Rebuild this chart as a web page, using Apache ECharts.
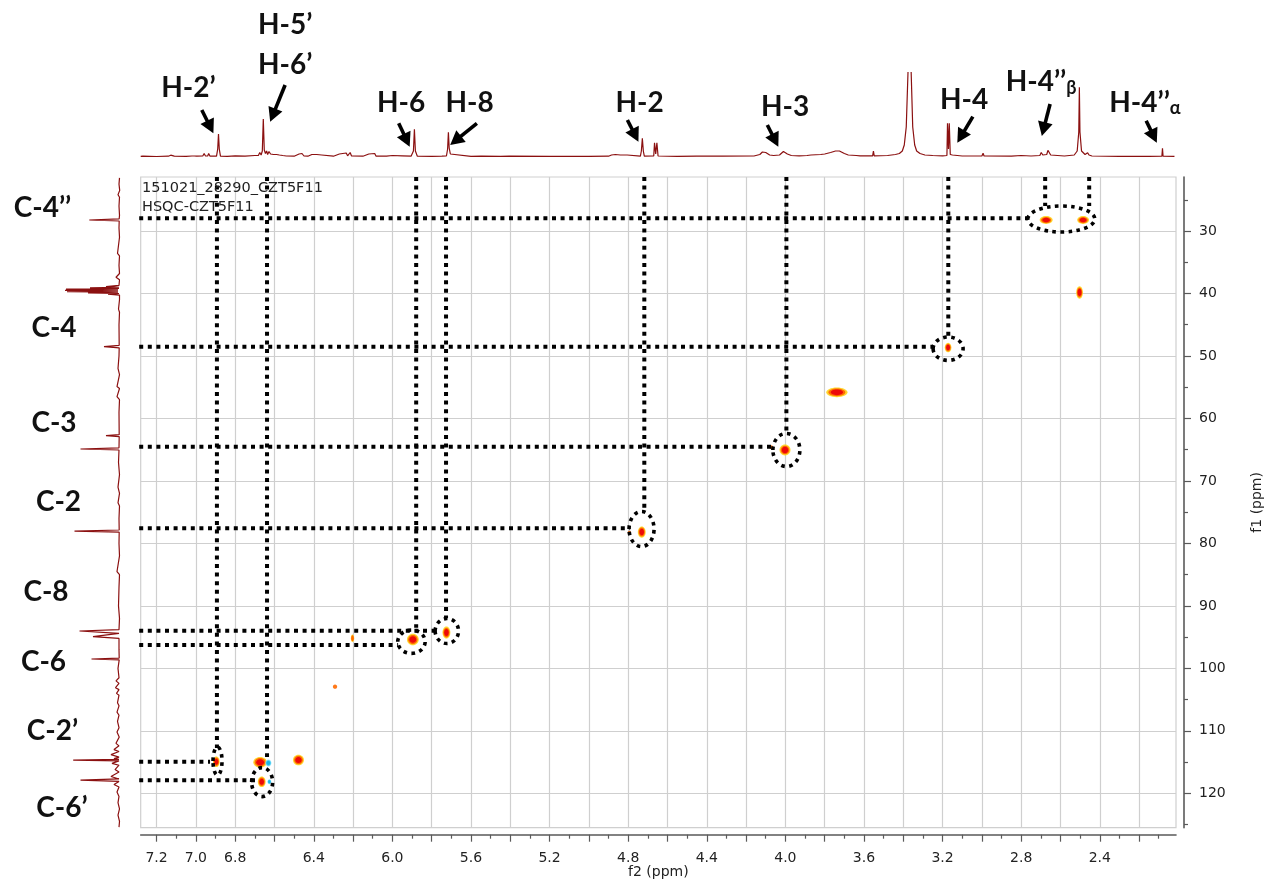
<!DOCTYPE html>
<html>
<head>
<meta charset="utf-8">
<title>HSQC CZT5F11</title>
<script src="https://cdn.jsdelivr.net/npm/echarts@6/dist/echarts.min.js"></script>
<style>
  html, body { margin: 0; padding: 0; background: #ffffff; }
  #chart { width: 1265px; height: 883px; }
</style>
</head>
<body>
<div id="chart"></div>
<script>
// ---------- axes (ppm) ----------
const f2Window = [2.0122, 7.2809];
const f1Window = [21.357, 125.50];
const f2MajorTicks = [7.2, 7.0, 6.8, 6.6, 6.4, 6.2, 6.0, 5.8, 5.6, 5.4, 5.2, 5.0, 4.8, 4.6, 4.4, 4.2, 4.0, 3.8, 3.6, 3.4, 3.2, 3.0, 2.8, 2.6, 2.4, 2.2];
const f2MinorTicks = [7.1, 6.9, 6.7, 6.5, 6.3, 6.1, 5.9, 5.7, 5.5, 5.3, 5.1, 4.9, 4.7, 4.5, 4.3, 4.1, 3.9, 3.7, 3.5, 3.3, 3.1, 2.9, 2.7, 2.5, 2.3, 2.1];
const f2TickLabels = [7.2, 7.0, 6.8, 6.4, 6.0, 5.6, 5.2, 4.8, 4.4, 4.0, 3.6, 3.2, 2.8, 2.4];
const f1MajorTicks = [30, 40, 50, 60, 70, 80, 90, 100, 110, 120];
const f1MinorTicks = [25, 35, 45, 55, 65, 75, 85, 95, 105, 115, 125];

// ---------- 1H trace along the top: [ppm, intensity] ----------
const protonTrace = [
  [7.281, 0.6], [7.27, 0.8], [7.266, 2], [7.262, 0.6], [7.20, 0.5], [7.14, 0.8], [7.128, 1.8], [7.12, 2.2], [7.11, 0.8],
  [7.05, 0.6], [7.02, 1], [7.015, 3], [7.008, 1], [7.003, 3], [6.996, 0.8],
  [6.965, 1], [6.958, 3.5], [6.952, 1.2], [6.946, 3], [6.94, 1], [6.935, 3.5], [6.928, 0.8],
  [6.895, 0.8], [6.889, 8], [6.885, 23], [6.881, 8], [6.875, 0.8],
  [6.84, 0.6], [6.80, 1.2], [6.79, 0.6], [6.75, 0.8],
  [6.70, 1.5], [6.69, 3], [6.682, 1.5], [6.675, 4.5], [6.668, 2],
  [6.662, 6], [6.657, 38], [6.652, 7], [6.646, 3.5], [6.64, 6], [6.635, 2.5], [6.628, 5.5], [6.62, 3], [6.612, 5],
  [6.605, 2.5], [6.597, 4.5], [6.59, 2.5], [6.583, 4], [6.575, 2], [6.567, 3.5], [6.558, 1.5], [6.55, 2.5], [6.54, 1],
  [6.50, 0.8], [6.475, 3], [6.468, 1.5], [6.46, 3.5], [6.45, 1],
  [6.43, 0.8], [6.41, 2.5], [6.40, 1], [6.385, 2.5], [6.375, 1], [6.36, 2], [6.35, 0.8],
  [6.30, 0.8], [6.27, 3], [6.262, 1], [6.235, 4], [6.228, 1.2], [6.215, 4.5], [6.208, 1],
  [6.15, 0.8], [6.12, 3], [6.113, 1], [6.09, 3.5], [6.083, 0.8],
  [6.03, 0.8], [6.00, 1.5], [5.99, 0.6], [5.95, 1.2], [5.94, 0.6],
  [5.905, 0.8], [5.893, 6], [5.888, 27.7], [5.883, 6], [5.873, 0.8],
  [5.80, 0.6], [5.748, 0.8], [5.744, 2.5], [5.74, 0.8],
  [5.725, 1], [5.719, 8], [5.715, 24.7], [5.711, 9], [5.705, 3], [5.695, 1],
  [5.60, 0.6], [5.548, 0.8], [5.545, 2], [5.54, 0.8],
  [5.45, 0.6], [5.405, 0.8], [5.40, 2], [5.395, 0.8],
  [5.20, 0.6], [5.00, 0.6],
  [4.90, 0.8], [4.885, 2], [4.878, 1], [4.865, 2.5], [4.858, 1], [4.84, 2], [4.83, 0.8], [4.805, 2], [4.798, 0.8],
  [4.738, 0.8], [4.733, 6], [4.728, 18.7], [4.723, 6], [4.718, 0.8],
  [4.67, 1], [4.666, 14.3], [4.66, 3], [4.654, 14.3], [4.648, 1],
  [4.55, 0.6], [4.452, 0.8], [4.448, 1.8], [4.444, 0.8], [4.32, 0.8], [4.316, 1.8], [4.312, 0.8],
  [4.16, 1], [4.13, 2.5], [4.117, 5], [4.11, 6.3], [4.10, 4.5], [4.08, 2], [4.06, 1.5], [4.03, 2], [4.01, 5.5],
  [4.002, 6.3], [3.99, 3], [3.97, 1.5],
  [3.93, 1.2], [3.89, 1.5], [3.87, 2], [3.86, 1.5], [3.82, 2.5], [3.80, 3], [3.77, 4.5], [3.745, 6], [3.725, 6],
  [3.70, 3.5], [3.68, 2], [3.64, 1.5], [3.63, 2.5], [3.62, 1.2], [3.58, 1.2],
  [3.556, 1.2], [3.552, 6], [3.548, 1.2],
  [3.48, 1.5], [3.44, 2.5], [3.42, 3.5], [3.405, 6], [3.395, 12], [3.385, 30], [3.376, 85],
  [3.368, null],
  [3.360, 85], [3.352, 30], [3.342, 12], [3.332, 6], [3.315, 3.5], [3.29, 2],
  [3.25, 1.5], [3.20, 1.2], [3.178, 1.5], [3.175, 33.7], [3.17, 8], [3.166, 33.7], [3.161, 2.5], [3.15, 2], [3.10, 1],
  [3.00, 1], [2.994, 3.7], [2.989, 1],
  [2.85, 0.8], [2.80, 1.5], [2.79, 0.8], [2.75, 1],
  [2.705, 1.5], [2.698, 4.5], [2.694, 5.3], [2.69, 2], [2.67, 2.5], [2.664, 6.7], [2.659, 5], [2.65, 2],
  [2.58, 1], [2.53, 2], [2.515, 6], [2.507, 25], [2.504, 69.7], [2.501, 25], [2.493, 6], [2.475, 2.5],
  [2.462, 4.3], [2.455, 2], [2.44, 1],
  [2.30, 0.6], [2.15, 0.6], [2.084, 0.8], [2.081, 8.7], [2.078, 0.8], [2.02, 0.6]
];

// ---------- 13C trace on the left: [intensity, ppm] ----------
const carbonTrace = [
  [0.5, 21.5], [1, 22.5], [0.3, 23.5], [2, 24.2], [0.5, 24.6], [1, 26], [0.5, 27.5],
  [0.8, 28.05], [30.7, 28.24], [0.8, 28.4],
  [1, 29.5], [0.5, 31], [2.5, 33.6], [0.5, 34], [1, 35.5], [0.5, 36.8], [4, 37.4], [0.5, 37.8],
  [1, 38.7], [14, 38.9], [1, 39.0], [30, 39.1], [1, 39.2], [54, 39.3], [2, 39.4], [55, 39.5], [2, 39.6],
  [53, 39.7], [2, 39.8], [32, 39.9], [1, 40.0], [12, 40.1], [0.5, 40.25],
  [0.5, 41], [1.5, 42.5], [0.5, 43], [1, 45], [0.8, 48.3], [16, 48.52], [0.8, 48.7],
  [1, 50], [2, 52], [0.5, 53], [3, 54.9], [0.5, 55.2], [3, 56.5], [0.5, 57], [1, 59],
  [0.8, 62.6], [14, 62.76], [0.8, 62.9], [1, 64.7], [39.5, 64.89], [1, 65.05],
  [1.5, 67], [0.5, 69], [2, 71], [0.5, 72], [2, 73.5], [0.5, 74], [1, 76],
  [0.8, 77.85], [45.5, 78.02], [0.8, 78.2], [1, 80], [0.5, 82], [3, 84.5], [0.5, 85], [1, 87], [1.5, 90], [0.5, 92],
  [1, 93.8], [40.5, 94.02], [1, 94.4], [27, 94.93], [1, 95.2], [1, 97], [0.8, 98.35], [28.5, 98.5], [0.8, 98.65],
  [2, 100], [1, 101.5], [4, 102], [1, 102.4], [4.5, 103.1], [1, 103.4], [3.5, 104], [1, 104.3],
  [2.5, 105.5], [1, 106], [3, 107], [1, 107.5], [2.5, 108.5], [1, 109.5], [3, 110.2], [0.8, 111],
  [4, 112], [1, 112.4], [6, 113], [1, 113.3], [9, 113.8], [1, 114.2], [6, 114.45], [1, 114.55],
  [46.8, 114.67], [1, 114.8], [8, 115.2], [1, 115.5], [5, 116.2], [1, 116.6], [9, 117.3], [1, 117.7],
  [39.5, 117.87], [1, 118.1], [6, 118.6], [1, 119], [3, 119.8], [1, 120.5], [2, 121.5], [0.5, 122.5],
  [2, 123.5], [0.5, 124.5], [1, 125.4]
];

// ---------- HSQC cross peaks (ppm) ----------
const crossF2 = [2.673, 2.485, 2.503, 3.172, 3.738, 4.002, 4.073, 4.731, 4.794, 5.896, 5.725, 6.203, 6.292, 6.896, 6.673, 6.478, 6.665];
const crossF1 = [28.24, 28.24, 39.84, 48.65, 55.82, 65.05, 64.57, 78.18, 78.29, 95.38, 94.26, 95.19, 102.93, 114.94, 115.04, 114.67, 118.14];
const crossWidthF2 = [0.066, 0.06, 0.034, 0.034, 0.108, 0.056, 0.022, 0.04, 0.017, 0.06, 0.04, 0.017, 0.022, 0.034, 0.07, 0.056, 0.04];
const crossWidthF1 = [1.25, 1.25, 2.0, 1.55, 1.55, 1.75, 0.6, 1.8, 0.6, 1.85, 1.95, 1.2, 0.7, 1.7, 1.7, 1.7, 1.7];
const crossLevel = [3, 3, 3, 3, 3, 3, 1, 3, 1, 3, 3, 2, 1, 3, 3, 3, 3];
// opposite-phase contours
const negF2 = [6.631, 6.626];
const negF1 = [115.15, 118.14];
const negWidthF2 = [0.031, 0.02];
const negWidthF1 = [1.12, 0.8];

// ---------- assignment guides ----------
// 1H columns: from the top of the map down to the correlation
const hGuideF2 = [6.893, 6.638, 5.879, 5.727, 4.718, 3.995, 3.171, 2.678, 2.454];
const hGuideEndF1 = [112.75, 114.2, 93.5, 91.94, 74.8, 62.3, 46.8, 26.0, 26.0];
// 13C rows: from the left edge across to the correlation
const cGuideF1 = [27.97, 48.52, 64.52, 77.58, 93.97, 96.26, 114.94, 117.92];
const cGuideEndF2 = [2.765, 3.249, 4.063, 4.79, 5.774, 5.971, 6.928, 6.699];
// circled correlations
const circleF2 = [2.596, 3.172, 3.995, 4.732, 5.723, 5.903, 6.89, 6.663];
const circleF1 = [28.08, 48.84, 65.05, 77.7, 94.02, 95.73, 114.83, 118.2];

// ---------- 1H labels and arrows (ppm, trace intensity) ----------
const hLabelText = ['H-2’', 'H-5’\nH-6’', 'H-6', 'H-8', 'H-2', 'H-3', 'H-4', '{m|H-4’’}{s|β}', '{m|H-4’’}{s|α}'];
const hLabelF2 = [7.038, 6.546, 5.956, 5.607, 4.742, 4.002, 3.091, 2.699, 2.170];
const hLabelI = [69, 112, 54.5, 54.5, 54.5, 50, 57, 75, 54.5];
const arrowTipF2 = [6.911, 6.622, 5.912, 5.706, 4.748, 4.036, 3.125, 2.695, 2.110];
const arrowTipI = [23.7, 35.3, 10.3, 12, 15.3, 10.3, 14.3, 21, 14.3];
const arrowTailF2 = [6.970, 6.546, 5.968, 5.570, 4.804, 4.092, 3.046, 2.653, 2.164];
const arrowTailI = [47, 72, 33.7, 33.7, 37, 32, 40.3, 53, 36.3];

// ---------- 13C labels (trace intensity, ppm) ----------
const cLabelText = ['C-4’’', 'C-4', 'C-3', 'C-2', 'C-8', 'C-6', 'C-2’', 'C-6’'];
const cLabelI = [77.5, 66, 66, 61.5, 74, 76.5, 67.5, 58];
const cLabelF1 = [26.32, 45.52, 60.73, 73.37, 87.77, 98.97, 110.02, 122.3];

// ---------- styling ----------
const traceColor = '#8b1010';
const gridColor = '#cfcfcf';
const axisColor = '#5a5a5a';
const tickFont = 'DejaVu Sans';
const labelFont = 'Lato';
const circleRadius = [[33.5, 13], [15, 11.7], [13.5, 16.5], [12.5, 17.5], [11.7, 12.5], [13.7, 11.7], [4.5, 14], [10.5, 14.5]];
const dotted = { stroke: '#000', lineWidth: 4, lineDash: [4, 4.6], lineCap: 'butt', fill: null };
const dottedRing = { stroke: '#000', lineWidth: 3.6, lineDash: [3.6, 4.4], lineCap: 'butt', fill: null };

const mapGrid = { left: 140.7, top: 177, width: 1035.3, height: 650.7 };

const chart = echarts.init(document.getElementById('chart'));

function hiddenAxis(extra) {
  return Object.assign({
    type: 'value', show: false, axisLine: { show: false }, axisTick: { show: false },
    axisLabel: { show: false }, splitLine: { show: false }
  }, extra);
}

// each contour is drawn as nested ellipses, weakest level outermost
function contourItem(colors) {
  return function (params, api) {
    const x = api.value(0), y = api.value(1);
    const c = api.coord([x, y]);
    const s = api.size([api.value(2), api.value(3)], [x, y]);
    const level = api.value(4);
    const rx = s[0] / 2, ry = s[1] / 2;
    const kids = [];
    const scales = [1, 0.8, 0.58];
    for (let k = 0; k < Math.min(level, 3); k++) {
      const col = level === 1 ? colors[1] : colors[k];
      kids.push({
        type: 'ellipse',
        shape: { cx: c[0], cy: c[1], rx: rx * scales[k], ry: ry * scales[k] },
        style: { fill: col, opacity: k === 0 ? 0.9 : 1 }
      });
    }
    return { type: 'group', children: kids };
  };
}

const crossData = crossF2.map((v, i) => [v, crossF1[i], crossWidthF2[i], crossWidthF1[i], crossLevel[i]]);
const negData = negF2.map((v, i) => [v, negF1[i], negWidthF2[i], negWidthF1[i], 3]);

const option = {
  animation: false,
  backgroundColor: '#ffffff',
  title: {
    text: '151021_28290_CZT5F11',
    subtext: 'HSQC-CZT5F11',
    left: 142, top: 181, itemGap: 4, padding: 0,
    textStyle: { fontFamily: tickFont, fontSize: 14.5, fontWeight: 'normal', color: '#222' },
    subtextStyle: { fontFamily: tickFont, fontSize: 14.5, color: '#222' }
  },
  grid: [
    Object.assign({ show: true, borderColor: gridColor, borderWidth: 1.2, backgroundColor: '#fff', outerBoundsMode: 'none', containLabel: false }, mapGrid),
    { left: mapGrid.left, width: mapGrid.width, top: 0, height: 159, outerBoundsMode: 'none', containLabel: false },
    { left: 0, width: 120, top: mapGrid.top, height: mapGrid.height, outerBoundsMode: 'none', containLabel: false }
  ],
  xAxis: [
    {
      type: 'value', gridIndex: 0, inverse: true, min: f2Window[0], max: f2Window[1],
      position: 'bottom', offset: 7,
      name: 'f2 (ppm)', nameLocation: 'middle', nameGap: 31, nameMoveOverlap: false,
      nameTextStyle: { fontFamily: tickFont, fontSize: 14, color: '#222' },
      axisLine: { show: true, lineStyle: { color: axisColor, width: 1.6 } },
      axisTick: { show: true, customValues: f2MajorTicks, length: 7, lineStyle: { color: axisColor, width: 1.2 } },
      axisLabel: {
        show: true, customValues: f2TickLabels, margin: 17,
        fontFamily: tickFont, fontSize: 14, color: '#222',
        formatter: v => Number(v).toFixed(1)
      },
      splitLine: { show: true, lineStyle: { color: gridColor, width: 1.2 } }
    },
    {
      type: 'value', gridIndex: 0, inverse: true, min: f2Window[0], max: f2Window[1],
      position: 'bottom', offset: 7,
      axisLine: { show: false },
      axisTick: { show: true, customValues: f2MinorTicks, length: 4, lineStyle: { color: axisColor, width: 1.2 } },
      axisLabel: { show: false }, splitLine: { show: false }
    },
    hiddenAxis({ gridIndex: 1, inverse: true, min: f2Window[0], max: f2Window[1] }),
    hiddenAxis({ gridIndex: 2, inverse: true, min: 0, max: 120 })
  ],
  yAxis: [
    {
      type: 'value', gridIndex: 0, inverse: true, min: f1Window[0], max: f1Window[1],
      position: 'right', offset: 8,
      name: 'f1 (ppm)', nameLocation: 'middle', nameGap: 66, nameRotate: 90, nameMoveOverlap: false,
      nameTextStyle: { fontFamily: tickFont, fontSize: 14, color: '#222' },
      axisLine: { show: true, lineStyle: { color: axisColor, width: 1.6 } },
      axisTick: { show: true, customValues: f1MajorTicks, length: 7, lineStyle: { color: axisColor, width: 1.2 } },
      axisLabel: {
        show: true, customValues: f1MajorTicks, margin: 15,
        fontFamily: tickFont, fontSize: 14, color: '#222'
      },
      splitLine: { show: true, lineStyle: { color: gridColor, width: 1.2 } }
    },
    {
      type: 'value', gridIndex: 0, inverse: true, min: f1Window[0], max: f1Window[1],
      position: 'right', offset: 8,
      axisLine: { show: false },
      axisTick: { show: true, customValues: f1MinorTicks, length: 4, lineStyle: { color: axisColor, width: 1.2 } },
      axisLabel: { show: false }, splitLine: { show: false }
    },
    hiddenAxis({ gridIndex: 1, min: -2, max: 157 }),
    hiddenAxis({ gridIndex: 2, inverse: true, min: f1Window[0], max: f1Window[1] })
  ],
  series: [
    {
      name: '1H', type: 'line', xAxisIndex: 2, yAxisIndex: 2, data: protonTrace,
      showSymbol: false, connectNulls: false, silent: true,
      lineStyle: { color: traceColor, width: 1.2 }
    },
    {
      name: '13C', type: 'line', xAxisIndex: 3, yAxisIndex: 3, data: carbonTrace,
      showSymbol: false, silent: true,
      lineStyle: { color: traceColor, width: 1.2 }
    },
    {
      name: 'HSQC', type: 'custom', xAxisIndex: 0, yAxisIndex: 0, data: crossData, silent: true,
      renderItem: contourItem(['#ffd21a', '#ff6a00', '#ec0a0a'])
    },
    {
      name: 'HSQC (-)', type: 'custom', xAxisIndex: 0, yAxisIndex: 0, data: negData, silent: true,
      renderItem: contourItem(['#9be6fa', '#3cc9f2', '#18b4e6'])
    },
    {
      name: '1H guides', type: 'custom', xAxisIndex: 0, yAxisIndex: 0, silent: true,
      data: hGuideF2.map((v, i) => [v, hGuideEndF1[i]]),
      renderItem: (params, api) => {
        const p0 = api.coord([api.value(0), f1Window[0]]);
        const p1 = api.coord([api.value(0), api.value(1)]);
        return { type: 'line', shape: { x1: p0[0], y1: p0[1], x2: p1[0], y2: p1[1] }, style: dotted };
      }
    },
    {
      name: '13C guides', type: 'custom', xAxisIndex: 0, yAxisIndex: 0, silent: true,
      data: cGuideF1.map((v, i) => [cGuideEndF2[i], v]),
      renderItem: (params, api) => {
        const p0 = api.coord([f2Window[1], api.value(1)]);
        const p1 = api.coord([api.value(0), api.value(1)]);
        return { type: 'line', shape: { x1: p0[0] - 1.5, y1: p0[1], x2: p1[0], y2: p1[1] }, style: dotted };
      }
    },
    {
      name: 'circled', type: 'custom', xAxisIndex: 0, yAxisIndex: 0, silent: true,
      data: circleF2.map((v, i) => [v, circleF1[i]]),
      renderItem: (params, api) => {
        const c = api.coord([api.value(0), api.value(1)]);
        const r = circleRadius[params.dataIndex];
        return { type: 'ellipse', shape: { cx: c[0], cy: c[1], rx: r[0], ry: r[1] }, style: dottedRing };
      }
    },
    {
      name: 'arrows', type: 'custom', xAxisIndex: 2, yAxisIndex: 2, silent: true, clip: false,
      data: arrowTipF2.map((v, i) => [v, arrowTipI[i], arrowTailF2[i], arrowTailI[i]]),
      renderItem: (params, api) => {
        const tip = api.coord([api.value(0), api.value(1)]);
        const tail = api.coord([api.value(2), api.value(3)]);
        const dx = tip[0] - tail[0], dy = tip[1] - tail[1];
        const len = Math.sqrt(dx * dx + dy * dy);
        const ux = dx / len, uy = dy / len;
        const head = 14, half = 7.5;
        const bx = tip[0] - ux * head, by = tip[1] - uy * head;
        return {
          type: 'group', children: [
            { type: 'line', shape: { x1: tail[0], y1: tail[1], x2: bx + ux * 2, y2: by + uy * 2 }, style: { stroke: '#000', lineWidth: 3.6 } },
            { type: 'polygon', shape: { points: [tip, [bx - uy * half, by + ux * half], [bx + uy * half, by - ux * half]] }, style: { fill: '#000' } }
          ]
        };
      }
    },
    {
      name: '1H labels', type: 'custom', xAxisIndex: 2, yAxisIndex: 2, silent: true, clip: false,
      data: hLabelF2.map((v, i) => [v, hLabelI[i]]),
      renderItem: (params, api) => {
        const p = api.coord([api.value(0), api.value(1)]);
        return {
          type: 'text', x: p[0], y: p[1],
          style: {
            text: hLabelText[params.dataIndex], fill: '#111',
            fontFamily: labelFont, fontWeight: 'bold', fontSize: 28, lineHeight: 40,
            align: 'center', verticalAlign: 'middle',
            rich: {
              m: { fontFamily: labelFont, fontWeight: 'bold', fontSize: 28, lineHeight: 30, fill: '#111' },
              s: { fontFamily: labelFont, fontWeight: 'bold', fontSize: 18, lineHeight: 16, verticalAlign: 'bottom', fill: '#111' }
            }
          }
        };
      }
    },
    {
      name: '13C labels', type: 'custom', xAxisIndex: 3, yAxisIndex: 3, silent: true, clip: false,
      data: cLabelI.map((v, i) => [v, cLabelF1[i]]),
      renderItem: (params, api) => {
        const p = api.coord([api.value(0), api.value(1)]);
        return {
          type: 'text', x: p[0], y: p[1],
          style: {
            text: cLabelText[params.dataIndex], fill: '#111',
            fontFamily: labelFont, fontWeight: 'bold', fontSize: 28,
            align: 'center', verticalAlign: 'middle'
          }
        };
      }
    }
  ]
};

chart.setOption(option);
</script>
</body>
</html>
